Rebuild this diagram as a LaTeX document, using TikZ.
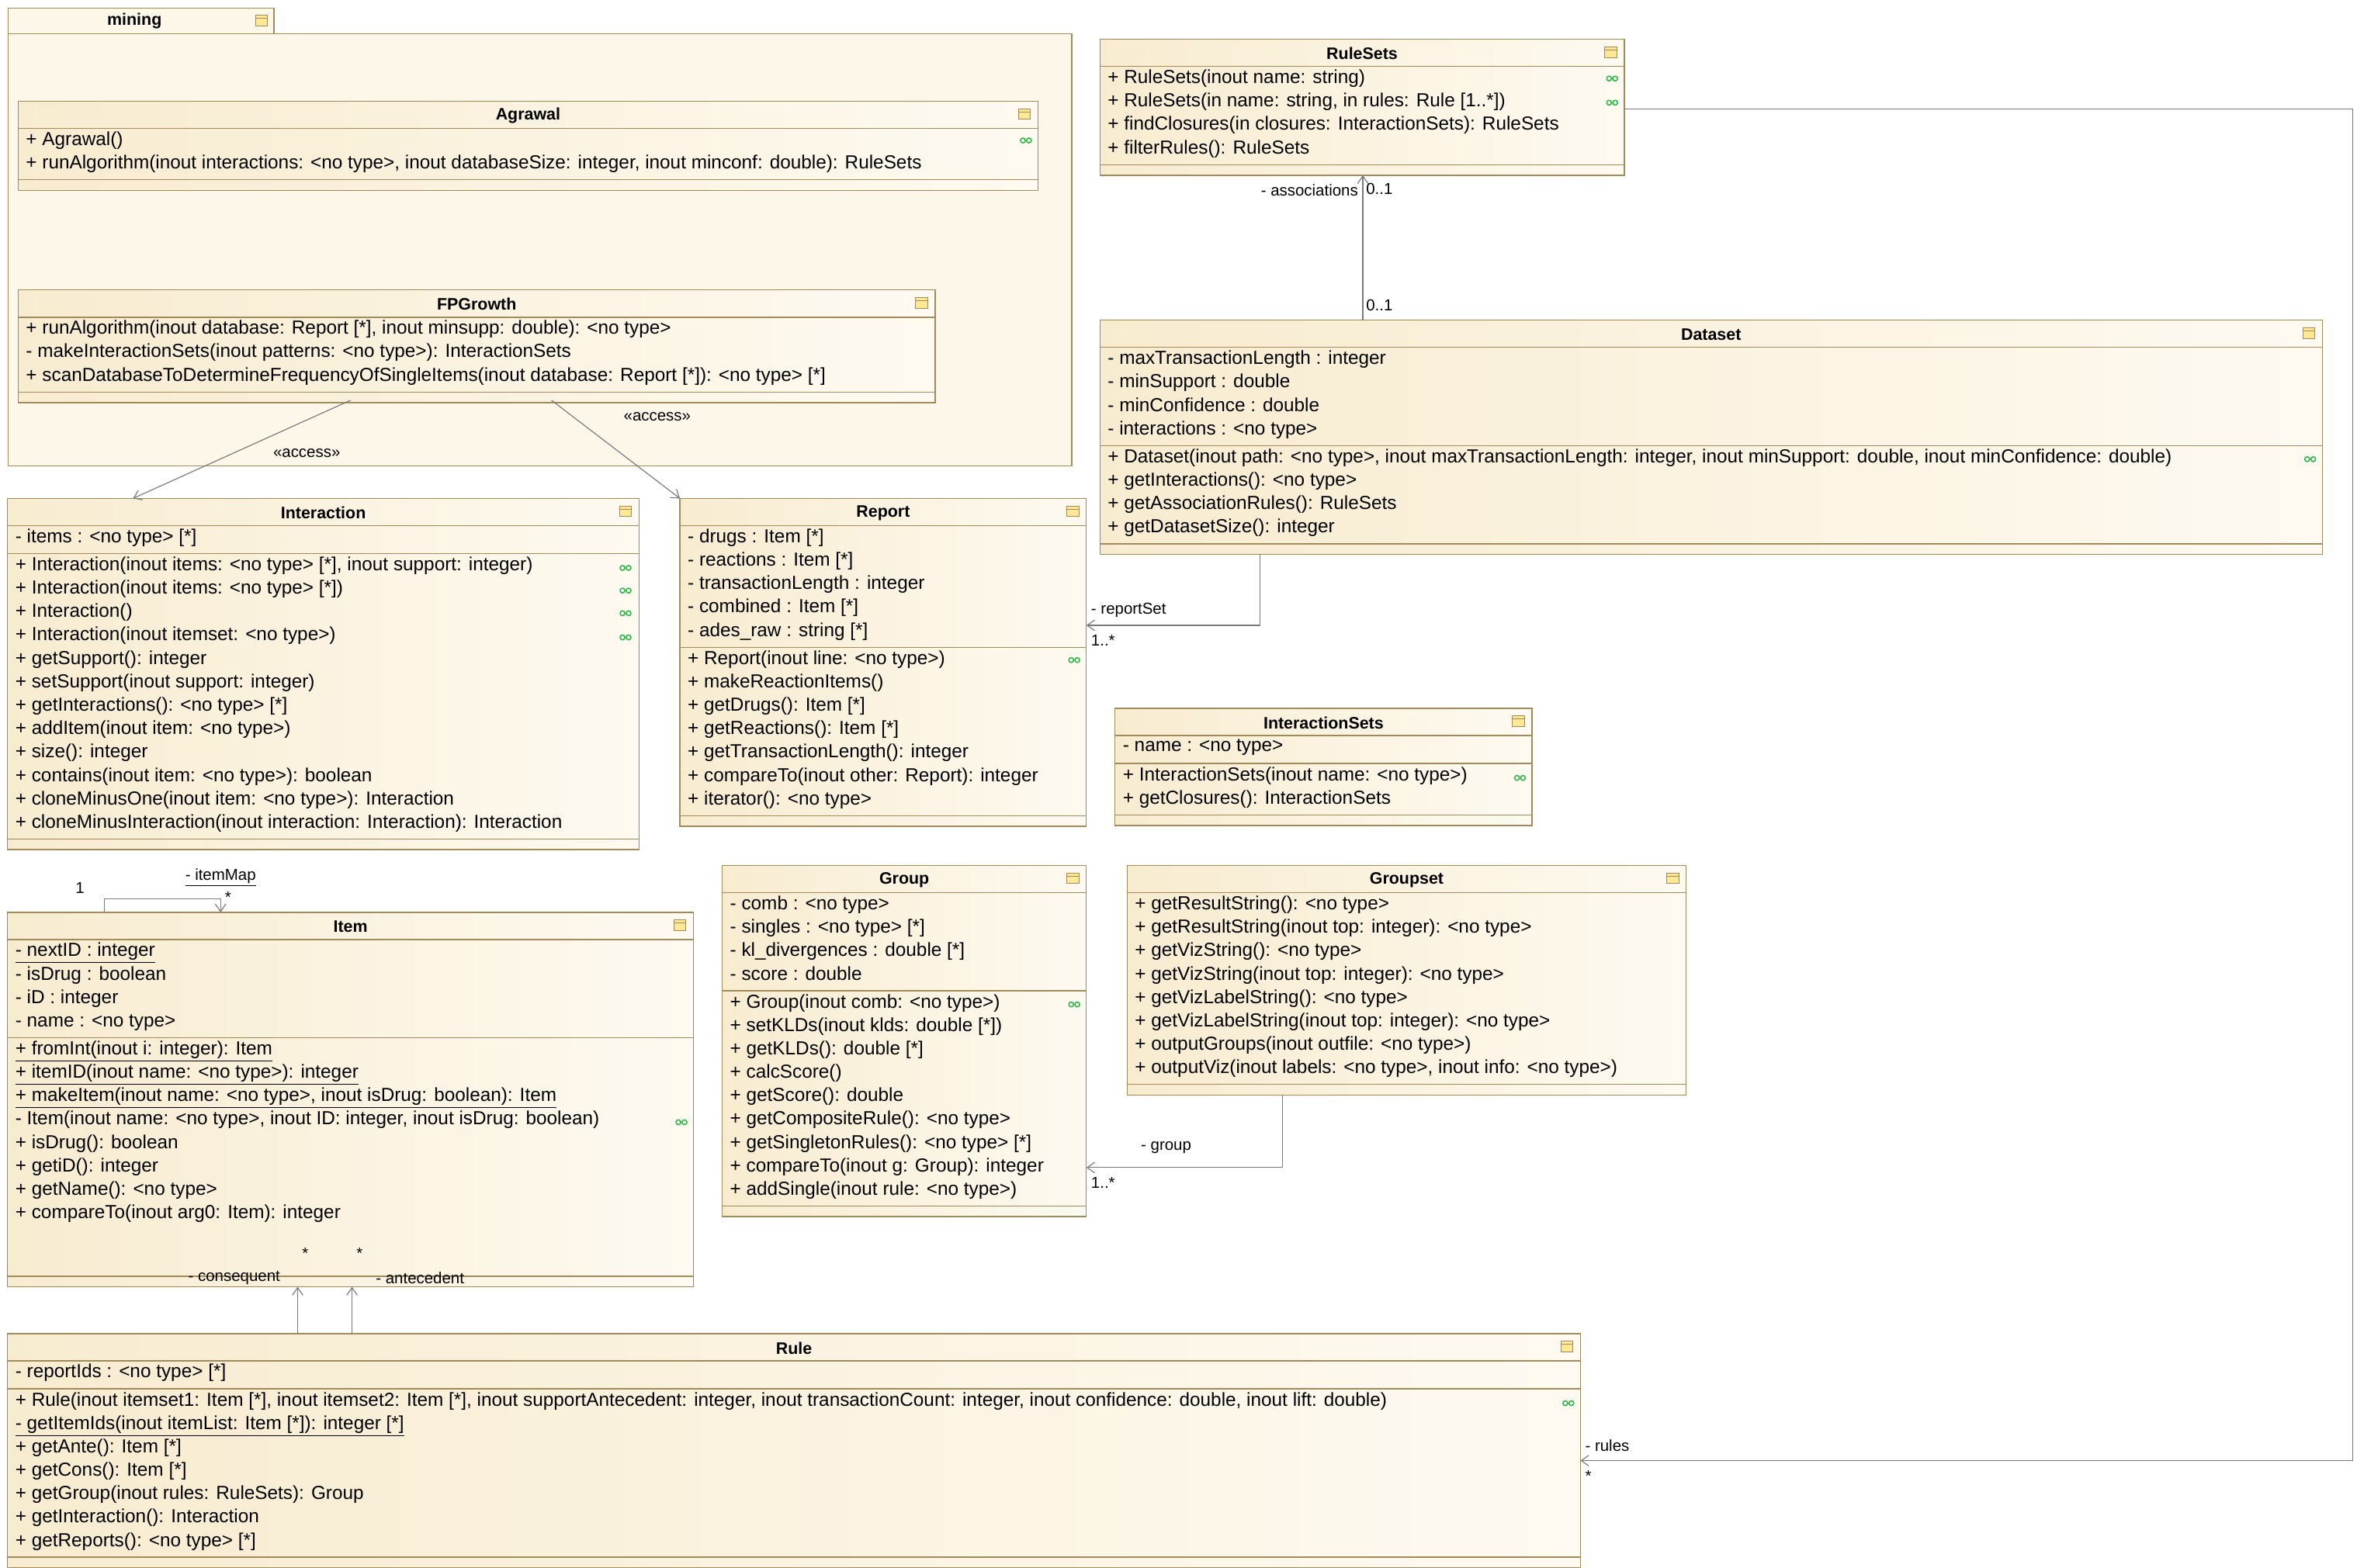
\documentclass[tikz,border=0pt]{standalone}
\usepackage{fontspec}
\setmainfont{Liberation Sans}
\usetikzlibrary{arrows.meta}
\definecolor{bdr}{HTML}{A08C5A}
\definecolor{boxL}{HTML}{F8ECD0}
\definecolor{boxR}{HTML}{FEFAF1}
\definecolor{pkg}{HTML}{FDF7EA}
\definecolor{ctorg}{HTML}{2FB84A}
\definecolor{conn}{HTML}{7A7A7A}
\tikzset{x=1pt,y=-1pt,
 classbox/.style={draw=bdr,line width=0.7pt,left color=boxL,right color=boxR,inner sep=0,outer sep=0},
 divl/.style={draw=bdr,line width=0.7pt},
 titlef/.style={font=\fontsize{11}{13}\selectfont\bfseries,inner sep=0},
 memb/.style={font=\fontsize{12.5}{15.5}\selectfont,align=left,anchor=north west,inner sep=0},
 lab/.style={font=\fontsize{10.5}{12}\selectfont,inner sep=0},
 conn/.style={draw=conn,line width=0.6pt},
 arr/.style={conn,-{Straight Barb[length=5pt,width=7pt]}},
}
\newcommand\ucicon[2]{\draw[bdr,fill=yellow!60!orange!40,line width=0.4pt] (#1-4,#2-3) rectangle (#1+4,#2+4); \draw[bdr,line width=0.4pt] (#1-4,#2-1)--(#1+4,#2-1);}
\newcommand\ucctor[2]{\draw[ctorg,line width=0.8pt] (#1-2,#2) circle[radius=1.6pt] (#1+2,#2) circle[radius=1.6pt];}
\newcommand\uclass[9]{%
 \pgfmathsetmacro\ucYa{#3+18}%
 \pgfmathsetmacro\ucYb{\ucYa+(#6>0)*(#6*15.5+3)}%
 \pgfmathsetmacro\ucYc{\ucYb+#8*15.5+3}%
 \pgfmathsetmacro\ucYd{\ucYc+7}%
 \pgfmathsetmacro\ucXr{#2+#4}%
 \pgfmathsetmacro\ucH{\ucYd-#3}%
 \pgfmathsetmacro\ucXm{#2+#4/2}%
 \node[classbox,minimum width=#4,minimum height=\ucH,anchor=north west] (#1) at (#2,#3) {};
 \draw[divl] (#2,\ucYa)--(\ucXr,\ucYa);
 \ifnum#6>0 \draw[divl] (#2,\ucYb)--(\ucXr,\ucYb);\fi
 \draw[divl] (#2,\ucYc)--(\ucXr,\ucYc);
 \node[titlef] (#1-t) at (\ucXm,#3+9.5) {#5};
 \ucicon{\ucXr-9}{#3+8}
 \ifnum#6>0 \node[memb] (#1-a) at (#2+5,\ucYa+2) {#7};\fi
 \node[memb] (#1-o) at (#2+5,\ucYb+2) {#9};
}
\begin{document}
\begin{tikzpicture}
\useasboundingbox[fill=white] (0,0) rectangle (1560,1038);
% package
\node[draw=bdr,fill=pkg,line width=0.7pt,minimum width=704,minimum height=286,anchor=north west,inner sep=0] (pkgbody) at (5,22) {};
\node[draw=bdr,fill=pkg,line width=0.7pt,minimum width=176,minimum height=17,anchor=north west,inner sep=0] (pkgtab) at (5,5) {};
\node[titlef] (pkgname) at (89,14) {mining};
\ucicon{173}{13}
%
\uclass{agrawal}{12}{67}{675}{Agrawal}{0}{}{2}{+ Agrawal()\\+ runAlgorithm(inout interactions: <no type>, inout databaseSize: integer, inout minconf: double): RuleSets}
\uclass{fpg}{12}{192}{607}{FPGrowth}{0}{}{3}{+ runAlgorithm(inout database: Report [*], inout minsupp: double): <no type>\\- makeInteractionSets(inout patterns: <no type>): InteractionSets\\+ scanDatabaseToDetermineFrequencyOfSingleItems(inout database: Report [*]): <no type> [*]}
\uclass{rulesets}{728}{26}{347}{RuleSets}{0}{}{4}{+ RuleSets(inout name: string)\\+ RuleSets(in name: string, in rules: Rule [1..*])\\+ findClosures(in closures: InteractionSets): RuleSets\\+ filterRules(): RuleSets}
\uclass{dataset}{728}{212}{809}{Dataset}{4}{- maxTransactionLength : integer\\- minSupport : double\\- minConfidence : double\\- interactions : <no type>}{4}{+ Dataset(inout path: <no type>, inout maxTransactionLength: integer, inout minSupport: double, inout minConfidence: double)\\+ getInteractions(): <no type>\\+ getAssociationRules(): RuleSets\\+ getDatasetSize(): integer}
\uclass{interaction}{5}{330}{418}{Interaction}{1}{- items : <no type> [*]}{12}{+ Interaction(inout items: <no type> [*], inout support: integer)\\+ Interaction(inout items: <no type> [*])\\+ Interaction()\\+ Interaction(inout itemset: <no type>)\\+ getSupport(): integer\\+ setSupport(inout support: integer)\\+ getInteractions(): <no type> [*]\\+ addItem(inout item: <no type>)\\+ size(): integer\\+ contains(inout item: <no type>): boolean\\+ cloneMinusOne(inout item: <no type>): Interaction\\+ cloneMinusInteraction(inout interaction: Interaction): Interaction}
\uclass{report}{450}{330}{269}{Report}{5}{- drugs : Item [*]\\- reactions : Item [*]\\- transactionLength : integer\\- combined : Item [*]\\- ades\_raw : string [*]}{7}{+ Report(inout line: <no type>)\\+ makeReactionItems()\\+ getDrugs(): Item [*]\\+ getReactions(): Item [*]\\+ getTransactionLength(): integer\\+ compareTo(inout other: Report): integer\\+ iterator(): <no type>}
\uclass{isets}{738}{469}{276}{InteractionSets}{1}{- name : <no type>}{2}{+ InteractionSets(inout name: <no type>)\\+ getClosures(): InteractionSets}
\uclass{group}{478}{573}{241}{Group}{4}{- comb : <no type>\\- singles : <no type> [*]\\- kl\_divergences : double [*]\\- score : double}{9}{+ Group(inout comb: <no type>)\\+ setKLDs(inout klds: double [*])\\+ getKLDs(): double [*]\\+ calcScore()\\+ getScore(): double\\+ getCompositeRule(): <no type>\\+ getSingletonRules(): <no type> [*]\\+ compareTo(inout g: Group): integer\\+ addSingle(inout rule: <no type>)}
\uclass{groupset}{746}{573}{370}{Groupset}{0}{}{8}{+ getResultString(): <no type>\\+ getResultString(inout top: integer): <no type>\\+ getVizString(): <no type>\\+ getVizString(inout top: integer): <no type>\\+ getVizLabelString(): <no type>\\+ getVizLabelString(inout top: integer): <no type>\\+ outputGroups(inout outfile: <no type>)\\+ outputViz(inout labels: <no type>, inout info: <no type>)}
\uclass{item}{5}{604}{454}{Item}{4}{\underline{- nextID : integer}\\- isDrug : boolean\\- iD : integer\\- name : <no type>}{10}{\underline{+ fromInt(inout i: integer): Item}\\\underline{+ itemID(inout name: <no type>): integer}\\\underline{+ makeItem(inout name: <no type>, inout isDrug: boolean): Item}\\- Item(inout name: <no type>, inout ID: integer, inout isDrug: boolean)\\+ isDrug(): boolean\\+ getiD(): integer\\+ getName(): <no type>\\+ compareTo(inout arg0: Item): integer}
\uclass{rule}{5}{883}{1041}{Rule}{1}{- reportIds : <no type> [*]}{7}{+ Rule(inout itemset1: Item [*], inout itemset2: Item [*], inout supportAntecedent: integer, inout transactionCount: integer, inout confidence: double, inout lift: double)\\\underline{- getItemIds(inout itemList: Item [*]): integer [*]}\\+ getAnte(): Item [*]\\+ getCons(): Item [*]\\+ getGroup(inout rules: RuleSets): Group\\+ getInteraction(): Interaction\\+ getReports(): <no type> [*]}
% constructor markers
\ucctor{679}{93}
\ucctor{1067}{52}\ucctor{1067}{68}
\ucctor{1529}{304}
\ucctor{414}{376}\ucctor{414}{391}\ucctor{414}{406}\ucctor{414}{422}
\ucctor{711}{437}
\ucctor{1006}{515}
\ucctor{711}{665}
\ucctor{451}{743}
\ucctor{1038}{929}
% connectors
\coordinate (fa) at (232,265);
\coordinate (fb) at (365,265);
\draw[arr] (fa) -- (interaction.north west -| 88,0);
\draw[arr] (fb) -- (report.north west);
\node[lab] (acc1) at (203,300) {<<access>>};
\node[lab] (acc2) at (435,276) {<<access>>};
\draw[arr] (dataset.north -| 902,0) -- (rulesets.south -| 902,0);
\node[lab,anchor=east] (assoc) at (899,126) {- associations};
\node[lab,anchor=west] (m1) at (904,125) {0..1};
\node[lab,anchor=west] (m2) at (904,202) {0..1};
\coordinate (rs1) at (834,414);
\draw[arr] (dataset.south -| 834,0) -- (rs1) -- (report.east |- rs1);
\node[lab,anchor=west] (rsl) at (722,404) {- reportSet};
\node[lab,anchor=west] (rsm) at (722,424) {1..*};
\coordinate (gp1) at (849,773);
\draw[arr] (groupset.south -| 849,0) -- (gp1) -- (group.east |- gp1);
\node[lab,anchor=west] (gpl) at (755,760) {- group};
\node[lab,anchor=west] (gpm) at (722,783) {1..*};
\coordinate (ru1) at (1557,72);
\coordinate (ru2) at (1557,967);
\draw[arr] (rulesets.east |- ru1) -- (ru1) -- (ru2) -- (rule.east |- ru2);
\node[lab,anchor=west] (rul) at (1049,957) {- rules};
\node[lab,anchor=west] (rum) at (1049,977) {*};
\coordinate (im1) at (69,595);
\coordinate (im2) at (146,595);
\draw[arr] (item.north -| 69,0) -- (im1) -- (im2) -- (item.north -| 146,0);
\node[lab] (iml) at (146,581) {\underline{- itemMap}};
\node[lab] (im1l) at (53,588) {1};
\node[lab] (im2l) at (151,594) {*};
\draw[arr] (rule.north -| 197,0) -- (item.south -| 197,0);
\draw[arr] (rule.north -| 233,0) -- (item.south -| 233,0);
\node[lab] (cs1) at (202,830) {*};
\node[lab] (cs2) at (238,830) {*};
\node[lab] (csl) at (155,846) {- consequent};
\node[lab] (anl) at (278,846) {- antecedent};
\end{tikzpicture}
\end{document}
